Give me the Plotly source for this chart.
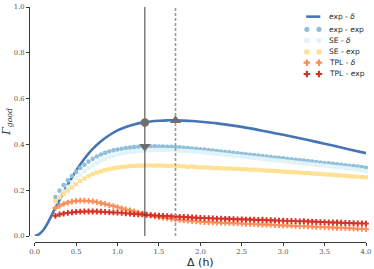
import plotly.graph_objects as go

# ---------------- data ----------------
x_line = [0.0, 0.05, 0.1, 0.15, 0.2, 0.3, 0.4, 0.5, 0.6, 0.7, 0.8, 0.9, 1.0, 1.1, 1.2, 1.3, 1.4, 1.5,
          1.6, 1.7, 1.8, 1.9, 2.0, 2.2, 2.4, 2.6, 2.8, 3.0, 3.2, 3.4, 3.6, 3.8, 4.0]
exp_delta = [0.000, 0.007, 0.024, 0.052, 0.087, 0.158, 0.225, 0.285, 0.337, 0.380, 0.414, 0.440,
             0.461, 0.476, 0.487, 0.495, 0.500, 0.503, 0.505, 0.505, 0.504, 0.502, 0.499, 0.492,
             0.482, 0.470, 0.456, 0.442, 0.427, 0.411, 0.395, 0.378, 0.362]

x_pts = [0.25, 0.30, 0.35, 0.40, 0.45, 0.50, 0.55, 0.60, 0.65, 0.70, 0.75, 0.80, 0.85, 0.90, 0.95,
         1.00, 1.05, 1.10, 1.15, 1.20, 1.25, 1.30, 1.35, 1.40, 1.45, 1.50, 1.55, 1.60, 1.65, 1.70,
         1.75, 1.80, 1.85, 1.90, 1.95, 2.00, 2.05, 2.10, 2.15, 2.20, 2.25, 2.30, 2.35, 2.40, 2.45,
         2.50, 2.55, 2.60, 2.65, 2.70, 2.75, 2.80, 2.85, 2.90, 2.95, 3.00, 3.05, 3.10, 3.15, 3.20,
         3.25, 3.30, 3.35, 3.40, 3.45, 3.50, 3.55, 3.60, 3.65, 3.70, 3.75, 3.80, 3.85, 3.90, 3.95,
         4.00]

exp_exp = [0.170, 0.198, 0.222, 0.243, 0.262, 0.280, 0.297, 0.311, 0.325, 0.337, 0.347, 0.356,
           0.363, 0.369, 0.374, 0.378, 0.381, 0.384, 0.386, 0.388, 0.390, 0.391, 0.392, 0.392,
           0.392, 0.391, 0.391, 0.390, 0.389, 0.388, 0.387, 0.385, 0.384, 0.382, 0.381, 0.379,
           0.377, 0.375, 0.373, 0.371, 0.369, 0.367, 0.365, 0.363, 0.361, 0.359, 0.357, 0.355,
           0.354, 0.351, 0.349, 0.347, 0.345, 0.343, 0.341, 0.339, 0.337, 0.335, 0.333, 0.331,
           0.329, 0.327, 0.325, 0.323, 0.321, 0.319, 0.317, 0.315, 0.313, 0.311, 0.309, 0.307,
           0.305, 0.303, 0.301, 0.298]

se_delta = [0.150, 0.172, 0.195, 0.215, 0.234, 0.252, 0.268, 0.283, 0.297, 0.309, 0.320, 0.330,
            0.338, 0.345, 0.351, 0.356, 0.360, 0.364, 0.367, 0.369, 0.371, 0.373, 0.374, 0.375,
            0.375, 0.376, 0.376, 0.375, 0.375, 0.374, 0.373, 0.372, 0.371, 0.370, 0.368, 0.367,
            0.365, 0.363, 0.361, 0.359, 0.357, 0.355, 0.353, 0.351, 0.349, 0.347, 0.345, 0.343,
            0.341, 0.339, 0.337, 0.335, 0.333, 0.331, 0.329, 0.327, 0.325, 0.323, 0.321, 0.319,
            0.317, 0.315, 0.313, 0.311, 0.309, 0.307, 0.305, 0.303, 0.301, 0.299, 0.297, 0.295,
            0.292, 0.290, 0.287, 0.284]

se_exp = [0.152, 0.168, 0.184, 0.198, 0.212, 0.226, 0.240, 0.251, 0.262, 0.270, 0.277, 0.283,
          0.288, 0.292, 0.296, 0.299, 0.301, 0.303, 0.305, 0.306, 0.307, 0.307, 0.308, 0.308,
          0.307, 0.308, 0.307, 0.306, 0.307, 0.305, 0.305, 0.304, 0.302, 0.303, 0.301, 0.300,
          0.299, 0.299, 0.297, 0.297, 0.296, 0.295, 0.295, 0.293, 0.293, 0.292, 0.291, 0.290,
          0.289, 0.289, 0.287, 0.286, 0.285, 0.284, 0.283, 0.281, 0.280, 0.279, 0.278, 0.277,
          0.275, 0.275, 0.273, 0.272, 0.271, 0.269, 0.268, 0.267, 0.265, 0.264, 0.263, 0.261,
          0.260, 0.259, 0.257, 0.256]

tpl_delta = [0.122, 0.132, 0.140, 0.146, 0.150, 0.153, 0.154, 0.154, 0.153, 0.151, 0.148, 0.144,
             0.140, 0.135, 0.131, 0.126, 0.121, 0.116, 0.112, 0.107, 0.102, 0.098, 0.094, 0.090,
             0.086, 0.083, 0.080, 0.077, 0.075, 0.072, 0.070, 0.068, 0.067, 0.065, 0.064, 0.062,
             0.061, 0.060, 0.060, 0.059, 0.058, 0.057, 0.057, 0.056, 0.055, 0.054, 0.053, 0.053,
             0.052, 0.051, 0.050, 0.050, 0.049, 0.048, 0.047, 0.046, 0.046, 0.045, 0.044, 0.043,
             0.043, 0.042, 0.041, 0.040, 0.040, 0.039, 0.038, 0.037, 0.036, 0.036, 0.035, 0.034,
             0.033, 0.032, 0.031, 0.030]

tpl_exp = [0.088, 0.094, 0.098, 0.101, 0.103, 0.105, 0.106, 0.107, 0.107, 0.107, 0.107, 0.106,
           0.105, 0.104, 0.103, 0.102, 0.101, 0.099, 0.098, 0.096, 0.095, 0.094, 0.092, 0.091,
           0.090, 0.089, 0.088, 0.087, 0.086, 0.085, 0.084, 0.083, 0.082, 0.081, 0.080, 0.079,
           0.078, 0.078, 0.077, 0.076, 0.076, 0.075, 0.075, 0.074, 0.073, 0.073, 0.072, 0.072,
           0.071, 0.070, 0.071, 0.069, 0.069, 0.068, 0.067, 0.067, 0.066, 0.066, 0.065, 0.064,
           0.065, 0.063, 0.063, 0.062, 0.061, 0.061, 0.060, 0.059, 0.059, 0.058, 0.057, 0.057,
           0.056, 0.055, 0.055, 0.054]

# reference lines and highlighted points
t_solid = 1.33
t_dashed = 1.70
vline_span = [0.0, 1.0]
hl_x = [1.33, 1.70, 1.33]
hl_y = [0.496, 0.504, 0.391]
hl_symbols = ["circle", "triangle-up", "triangle-down"]

x_ticks = [0.0, 0.5, 1.0, 1.5, 2.0, 2.5, 3.0, 3.5, 4.0]
y_ticks = [0.0, 0.2, 0.4, 0.6, 0.8, 1.0]

labels = ["exp - <i>δ</i>", "exp - exp", "SE - <i>δ</i>", "SE - exp", "TPL - <i>δ</i>", "TPL - exp"]
colors = ["#4575b4", "#91bfdb", "#e0f3f8", "#fee090", "#fc8d59", "#d73027"]

# ---------------- figure ----------------
fig = go.Figure()

fig.add_trace(go.Scatter(x=x_line, y=exp_delta, mode="lines",
                         line=dict(color=colors[0], width=2.6, shape="spline", smoothing=0.8),
                         showlegend=False, cliponaxis=False))

series = [(exp_exp, "circle", 4.6), (se_delta, "square", 4.2), (se_exp, "square", 4.2),
          (tpl_delta, "cross", 4.8), (tpl_exp, "cross", 4.8)]
for i, (vals, sym, sz) in enumerate(series):
    fig.add_trace(go.Scatter(x=x_pts, y=vals, mode="markers",
                             marker=dict(symbol=sym, size=sz, color=colors[i + 1],
                                         line=dict(width=0)),
                             showlegend=False, cliponaxis=False))

# vertical reference lines (drawn before the highlight markers)
fig.add_trace(go.Scatter(x=[t_solid, t_solid], y=vline_span, mode="lines",
                         line=dict(color="#3a3a3a", width=1), showlegend=False,
                         cliponaxis=False))
fig.add_trace(go.Scatter(x=[t_dashed, t_dashed], y=vline_span, mode="lines",
                         line=dict(color="#9a9a9a", width=1.6, dash="3px,2px"),
                         showlegend=False, cliponaxis=False))

for hx, hy, hs, hsz in zip(hl_x, hl_y, hl_symbols, [8.5, 10, 10]):
    fig.add_trace(go.Scatter(x=[hx], y=[hy], mode="markers",
                             marker=dict(symbol=hs, size=hsz, color="#6f6f6f",
                                         line=dict(width=0)),
                             showlegend=False, cliponaxis=False))

# ---------------- custom legend (overlay paper-like axes) ----------------
leg_x1, leg_x2, leg_text_x = 0.824, 0.860, 0.883
leg_rows = [0.959, 0.905, 0.858, 0.809, 0.763, 0.715]
fig.add_trace(go.Scatter(x=[leg_x1 - 0.002, leg_x2 + 0.004], y=[leg_rows[0]] * 2, mode="lines",
                         line=dict(color=colors[0], width=2.6), xaxis="x2", yaxis="y2",
                         showlegend=False, hoverinfo="skip"))
for i, (vals, sym, sz) in enumerate(series):
    fig.add_trace(go.Scatter(x=[leg_x1, leg_x2], y=[leg_rows[i + 1]] * 2, mode="markers",
                             marker=dict(symbol=sym, size=sz + 0.6, color=colors[i + 1],
                                         line=dict(width=0)),
                             xaxis="x2", yaxis="y2", showlegend=False, hoverinfo="skip"))
for i, lab in enumerate(labels):
    fig.add_annotation(x=leg_text_x, y=leg_rows[i], xref="paper", yref="paper", text=lab,
                       showarrow=False, xanchor="left", yanchor="middle",
                       font=dict(family="DejaVu Sans", size=7.5, color="#262626"))

tickfont = dict(family="DejaVu Serif", size=6.8, color="#505050")
fig.update_layout(
    width=374, height=269,
    margin=dict(l=30, r=8, t=7, b=27, pad=0),
    paper_bgcolor="white", plot_bgcolor="rgba(0,0,0,0)",
    xaxis=dict(domain=[0.014, 1], range=[0, 4], anchor="y2",
               showline=True, linecolor="#3a3a3a", linewidth=1, ticks="outside", ticklen=3,
               tickcolor="#3a3a3a", tickwidth=1, tickvals=x_ticks,
               ticktext=[f"{v:.1f}" for v in x_ticks], tickfont=tickfont,
               showgrid=False, zeroline=False, automargin=False,
               title=dict(text="Δ (h)", font=dict(family="DejaVu Sans", size=11, color="#262626"),
                          standoff=3)),
    yaxis=dict(domain=[0.0255, 1], range=[0, 1], anchor="x2",
               showline=True, linecolor="#3a3a3a", linewidth=1, ticks="outside", ticklen=3,
               tickcolor="#3a3a3a", tickwidth=1, tickvals=y_ticks,
               ticktext=[f"{v:.1f}" for v in y_ticks], tickfont=tickfont,
               showgrid=False, zeroline=False, automargin=False,
               title=dict(text="<i>Γ</i><sub><i>good</i></sub>",
                          font=dict(family="DejaVu Serif", size=11, color="#262626"),
                          standoff=5)),
    xaxis2=dict(domain=[0, 1], range=[0, 1], anchor="y2", visible=False, fixedrange=True),
    yaxis2=dict(domain=[0, 1], range=[0, 1], anchor="x2", visible=False, fixedrange=True),
    showlegend=False,
)

fig.write_html("out.html", config={"displayModeBar": False, "staticPlot": True},
               post_script="document.body.style.margin='0';")
